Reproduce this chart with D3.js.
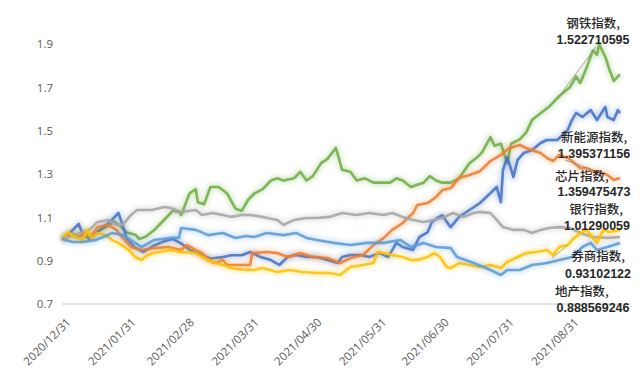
<!DOCTYPE html>
<html><head><meta charset="utf-8">
<script src="https://cdn.jsdelivr.net/npm/d3@7"></script>
<style>
html,body{margin:0;padding:0;background:#fff;}
svg{display:block;font-family:"Open Sans","Liberation Sans",Arial,sans-serif;}
</style></head>
<body>
<svg id="chart" width="640" height="380"></svg>
<script>
// ---- data (x in calendar days after 2020/12/31) ----
const startDate = "2020/12/31";
const endDay = 267;
const tickLabels = ["2020/12/31","2021/01/31","2021/02/28","2021/03/31","2021/04/30","2021/05/31","2021/06/30","2021/07/31","2021/08/31"];
const yTicks = [0.7,0.9,1.1,1.3,1.5,1.7,1.9];

const seriesNames = ["钢铁指数","新能源指数","芯片指数","银行指数","券商指数","地产指数"];
const seriesColors = ["#70AD47","#4472C4","#ED7D31","#A5A5A5","#FFC000","#5B9BD5"];
const endLabels = ["1.522710595","1.395371156","1.359475473","1.01290059","0.93102122","0.888569246"];

const steelDays = [0,4,8,11,14,18,22,25,28,31,35,37,40,44,49,53,56,57,61,64,65,68,71,75,79,83,86,89,92,96,100,103,106,111,114,117,120,124,127,131,132,134,138,141,145,149,154,157,160,163,167,170,173,176,179,182,186,190,195,199,201,205,207,210,213,215,219,222,225,229,233,238,243,246,248,251,254,256,257,260,262,264,267];
const steelVals = [1.00,1.03,1.01,1.03,1.01,1.04,1.06,1.08,1.06,1.03,1.02,1.00,1.01,1.04,1.09,1.13,1.125,1.11,1.21,1.23,1.17,1.16,1.24,1.24,1.21,1.14,1.13,1.18,1.21,1.23,1.27,1.28,1.27,1.28,1.31,1.27,1.29,1.35,1.37,1.42,1.39,1.32,1.31,1.27,1.28,1.26,1.26,1.26,1.28,1.27,1.24,1.25,1.26,1.29,1.27,1.26,1.26,1.28,1.35,1.38,1.40,1.47,1.43,1.44,1.35,1.44,1.46,1.49,1.55,1.58,1.61,1.66,1.70,1.75,1.72,1.79,1.87,1.85,1.90,1.84,1.78,1.73,1.76];

const newEnergyDays = [0,4,8,10,13,18,23,25,27,29,31,35,39,44,49,53,57,61,66,71,76,81,86,90,95,100,104,108,112,117,122,127,132,134,138,143,147,152,156,158,160,163,168,171,175,177,180,182,184,186,190,195,200,205,208,210,211,213,215,216,218,221,225,229,232,237,242,244,246,249,253,256,259,260,261,264,266,267];
const newEnergyVals = [1.00,1.03,1.07,1.02,1.00,1.04,1.08,1.10,1.12,1.065,1.00,0.96,0.94,0.97,0.99,1.00,0.98,0.95,0.93,0.91,0.915,0.925,0.925,0.94,0.917,0.903,0.88,0.917,0.926,0.917,0.917,0.903,0.889,0.917,0.926,0.926,0.917,0.935,0.917,0.949,0.982,0.963,0.949,1.009,1.032,1.078,1.10,1.11,1.08,1.055,1.102,1.134,1.166,1.212,1.24,1.17,1.318,1.378,1.318,1.286,1.365,1.397,1.411,1.443,1.457,1.457,1.503,1.549,1.582,1.563,1.595,1.549,1.595,1.609,1.563,1.549,1.595,1.582];

const chipDays = [0,4,8,11,14,17,22,26,29,33,38,44,51,57,60,64,67,70,73,77,79,86,90,91,98,103,108,114,120,127,133,138,144,149,154,158,163,168,170,175,179,182,186,190,195,200,205,210,214,219,222,225,229,232,235,238,242,244,248,251,254,257,261,264,267];
const chipVals = [1.00,1.02,1.005,1.028,1.014,1.055,1.065,1.042,1.005,0.963,0.949,0.958,0.963,0.949,0.972,0.949,0.935,0.903,0.889,0.903,0.88,0.88,0.88,0.935,0.94,0.935,0.917,0.935,0.917,0.912,0.889,0.912,0.926,0.972,1.005,1.042,1.074,1.12,1.157,1.166,1.194,1.226,1.235,1.282,1.295,1.313,1.36,1.388,1.42,1.434,1.42,1.41,1.397,1.374,1.36,1.388,1.374,1.36,1.327,1.327,1.313,1.313,1.295,1.272,1.282];

const bankDays = [0,4,9,13,17,22,26,29,33,36,43,49,52,57,64,67,72,77,81,86,90,96,103,106,111,117,122,128,134,141,147,154,158,163,168,173,178,182,187,192,197,200,205,208,211,216,221,225,229,233,238,243,248,254,261,267];
const bankVals = [1.00,1.014,1.028,1.042,1.078,1.088,1.065,1.065,1.111,1.134,1.134,1.148,1.143,1.125,1.134,1.111,1.12,1.111,1.102,1.111,1.111,1.102,1.088,1.065,1.088,1.097,1.097,1.102,1.12,1.111,1.12,1.111,1.12,1.102,1.088,1.078,1.088,1.097,1.12,1.102,1.12,1.125,1.12,1.088,1.055,1.042,1.042,1.028,1.042,1.051,1.055,1.051,1.028,1.009,1.005,1.009];

const brokerDays = [0,3,6,10,12,14,17,21,24,27,32,35,38,41,44,51,57,64,67,72,77,81,88,92,96,103,109,115,122,128,133,138,144,149,151,154,158,163,167,170,175,178,181,184,186,190,195,200,205,210,213,218,222,227,232,235,238,242,244,248,251,253,256,259,262,267];
const brokerVals = [1.00,1.032,1.009,0.995,1.042,1.005,1.028,1.018,0.995,0.982,0.949,0.917,0.903,0.926,0.935,0.949,0.94,0.935,0.917,0.894,0.88,0.866,0.857,0.857,0.866,0.848,0.857,0.848,0.843,0.843,0.834,0.871,0.88,0.889,0.94,0.935,0.926,0.917,0.903,0.903,0.917,0.935,0.917,0.871,0.866,0.889,0.88,0.871,0.88,0.866,0.894,0.917,0.935,0.94,0.949,0.926,0.963,0.972,0.995,1.028,1.042,1.018,0.982,1.042,1.032,1.042];

const realtyDays = [0,5,10,16,21,24,29,33,38,44,52,56,57,64,70,77,83,88,92,98,106,112,117,122,130,138,146,154,162,167,173,179,186,189,197,205,210,213,219,225,232,238,244,249,253,256,261,267];
const realtyVals = [1.00,0.986,0.986,0.995,1.014,1.028,1.018,0.995,0.963,0.995,1.005,1.005,1.051,1.042,1.018,1.028,1.005,1.014,1.009,1.028,1.018,1.028,1.005,0.995,0.982,0.972,0.982,0.982,0.995,0.963,0.982,0.963,0.958,0.917,0.889,0.857,0.834,0.857,0.857,0.88,0.889,0.903,0.917,0.963,0.982,0.949,0.963,0.982];

const allDays = [steelDays,newEnergyDays,chipDays,bankDays,brokerDays,realtyDays];
const allVals = [steelVals,newEnergyVals,chipVals,bankVals,brokerVals,realtyVals];

// ---- chart ----
(function(){
const parse = d3.timeParse("%Y/%m/%d");
const t0 = parse(startDate);
const svg = d3.select("#chart");
const mLeft = 62, mRight = 620, mTop = 44, mBottom = 304;

const x = d3.scaleTime().domain([t0, d3.timeDay.offset(t0, endDay)]).range([mLeft, mRight]);
const y = d3.scaleLinear().domain([0.7, 1.9]).range([mBottom, mTop]);

const defs = svg.append("defs");
defs.append("filter").attr("id","glow").attr("x","-5%").attr("y","-20%").attr("width","110%").attr("height","140%")
  .append("feGaussianBlur").attr("stdDeviation", 2.4);

// baseline
svg.append("line").attr("x1", mLeft).attr("x2", 630).attr("y1", y(0.7)).attr("y2", y(0.7))
  .attr("stroke", "#d9d9d9").attr("stroke-width", 1.5);

const tickFont = "Open Sans, Liberation Sans, sans-serif";
// y axis labels
const yAxis = d3.axisLeft(y).tickValues(yTicks).tickFormat(d3.format(".1f")).tickSize(0).tickPadding(0);
const yg = svg.append("g").attr("transform", "translate(53,0)").call(yAxis)
  .attr("font-size", null).attr("font-family", null);
yg.select(".domain").remove();
yg.selectAll("text").attr("fill", "#595959").attr("font-size", 11.5).attr("font-family", tickFont);

// x axis labels
const xDates = tickLabels.map(parse);
const xAxis = d3.axisBottom(x).tickValues(xDates).tickFormat(d3.timeFormat("%Y/%m/%d")).tickSize(0).tickPadding(0);
const xg = svg.append("g").attr("transform", "translate(0," + mBottom + ")").call(xAxis)
  .attr("font-size", null).attr("font-family", null);
xg.select(".domain").remove();
xg.selectAll("text")
  .attr("fill", "#595959").attr("font-size", 11.5).attr("font-family", tickFont)
  .attr("text-anchor", "end").attr("dy", null).attr("y", 0)
  .attr("transform", "translate(9,19) rotate(-45)");

// lines
const line = d3.line().x(d => x(d[0])).y(d => y(d[1]));
allDays.forEach((days, i) => {
  const vals = allVals[i];
  const n = Math.min(days.length, vals.length);
  const pts = d3.range(n).map(j => [d3.timeDay.offset(t0, days[j]), vals[j]]);
  svg.append("path").datum(pts).attr("d", line).attr("fill", "none")
    .attr("stroke", seriesColors[i]).attr("stroke-width", 5.5).attr("opacity", 0.3)
    .attr("stroke-linejoin","round").attr("filter", "url(#glow)");
  svg.append("path").datum(pts).attr("d", line).attr("fill", "none")
    .attr("stroke", seriesColors[i]).attr("stroke-width", 2.6).attr("opacity", 0.88)
    .attr("stroke-linejoin","round");
});

// leader lines (annotation, anchored to data points)
const leaders = [
  {day: 238, val: 1.66, lx: 596, ly: 47},
  {day: 256, val: 1.313, lx: 565, ly: 160},
  {day: 242, val: 0.972, lx: 552, ly: 258}
];
leaders.forEach(l => {
  svg.append("line").attr("x1", l.lx).attr("y1", l.ly)
    .attr("x2", x(d3.timeDay.offset(t0, l.day))).attr("y2", y(l.val))
    .attr("stroke", "#8c8c8c").attr("stroke-width", 0.8);
});

// end labels
const labelLayout = [
  {nx: 593, ny: 28, na: "middle", vx: 593, vy: 44, va: "middle"},
  {nx: 594, ny: 142, na: "middle", vx: 594, vy: 158, va: "middle"},
  {nx: 555, ny: 181, na: "start", vx: 594, vy: 196, va: "middle"},
  {nx: 596, ny: 214, na: "middle", vx: 597, vy: 230, va: "middle"},
  {nx: 598, ny: 261, na: "middle", vx: 598, vy: 278, va: "middle"},
  {nx: 555, ny: 296, na: "start", vx: 593, vy: 312, va: "middle"}
];
const lg = svg.append("g");
seriesNames.forEach((nm, i) => {
  const L = labelLayout[i];
  lg.append("text").attr("x", L.nx).attr("y", L.ny).attr("text-anchor", L.na)
    .attr("font-family", "Noto Sans CJK SC, sans-serif").attr("font-size", 12.5).attr("font-weight", 500)
    .attr("fill", "#262626").text(nm + ",");
  lg.append("text").attr("x", L.vx).attr("y", L.vy).attr("text-anchor", L.va)
    .attr("font-family", "Liberation Sans, Arial, sans-serif").attr("font-size", 12.5).attr("font-weight", "bold")
    .attr("fill", "#262626").text(endLabels[i]);
});
})();
</script>
</body></html>
